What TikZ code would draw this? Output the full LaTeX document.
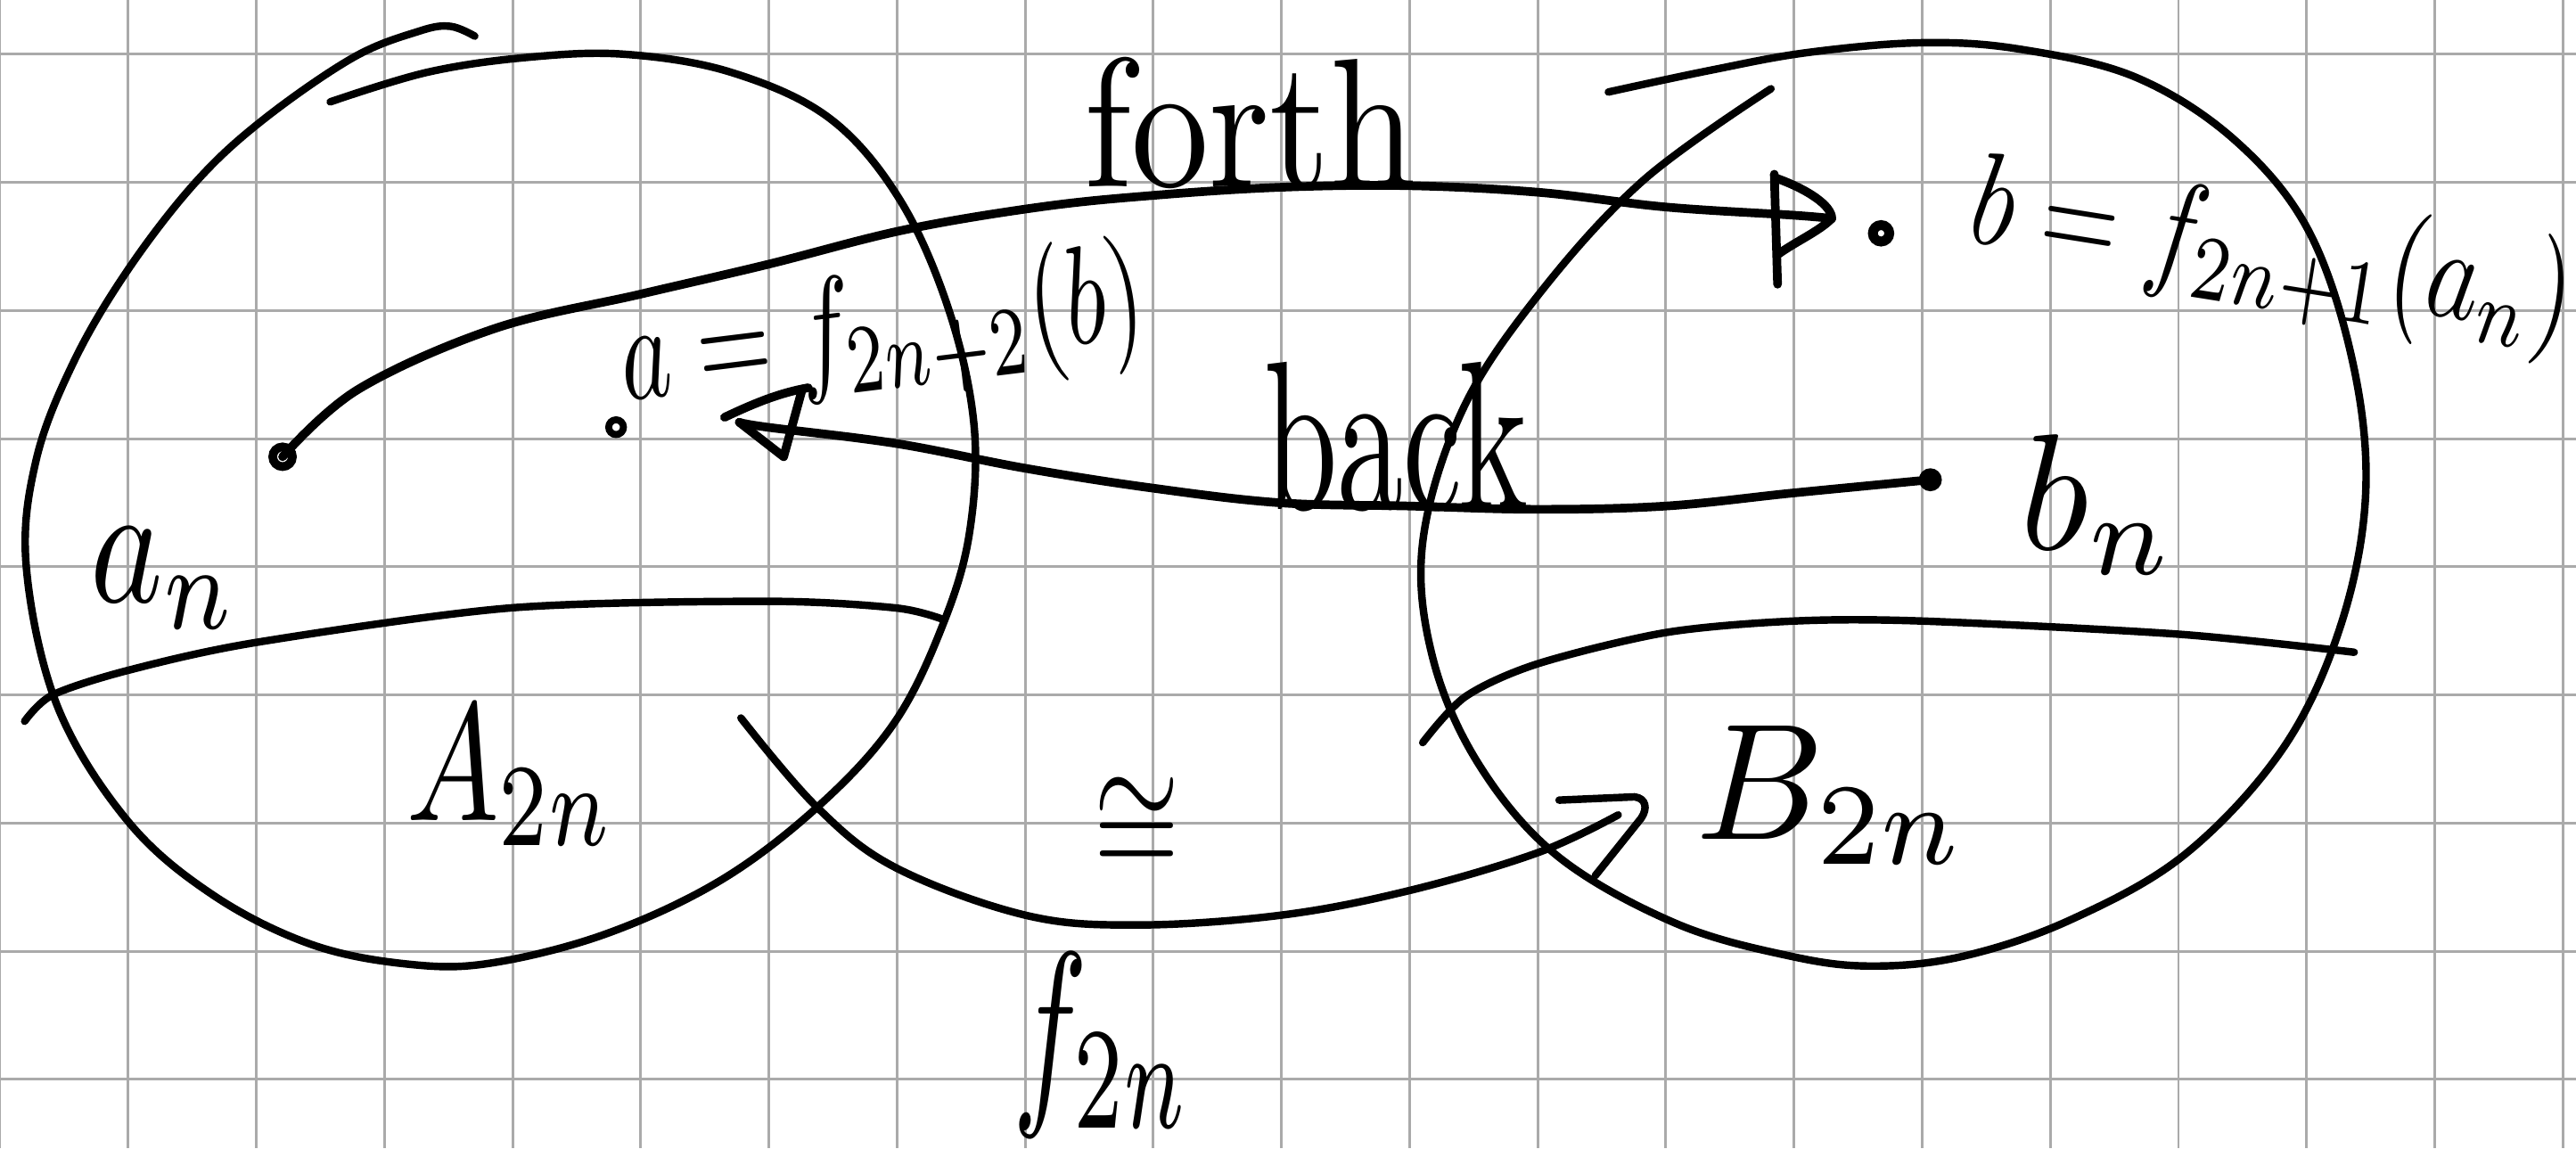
\documentclass[tikz,border=0pt]{standalone}
\usepackage{graphicx}
\usetikzlibrary{calc}
\definecolor{gridgray}{RGB}{170,170,170}
\tikzset{
 gridline/.style={gridgray, line width=0.45pt},
 pen/.style={line width=1.3pt, line cap=round, line join=round},
 arrowpen/.style={line width=1.5pt, line cap=round, line join=round},
 lbl/.style={inner sep=0pt, anchor=center},
 ring/.style={circle, draw, inner sep=0pt, line width=1.2pt},
}
\newcommand{\hw}[3]{\resizebox*{#1}{#2}{#3}}
\begin{document}
\begin{tikzpicture}[x=0.01cm, y=-0.01cm]
\useasboundingbox (0,0) rectangle (1568,699);
\fill[white] (0,0) rectangle (1568,699);
\foreach \i in {0,...,20} \draw[gridline] (78*\i,0) -- (78*\i,699);
\foreach \j in {0,...,8} \draw[gridline] (0,33+78*\j) -- (1568,33+78*\j);

% left set
\draw[pen] plot[smooth, tension=0.6] coordinates {(201,62) (260,44) (320,35) (380,33) (445,44) (505,72) (548,122) (578,190) (593,260) (590,325) (574,380) (545,439) (500,489) (440,535) (370,568) (300,586) (250,587) (190,575) (130,545) (78,500) (35,430) (16,345) (22,280) (45,220) (78,164) (119,111) (160,73) (215,35) (255,19) (274,16) (289,22)};
% right set
\draw[pen] plot[smooth, tension=0.6] coordinates {(1078,54) (1000,110) (936,180) (890,250) (866,330) (872,400) (900,465) (948,521) (1020,562) (1090,582) (1140,588) (1195,582) (1260,560) (1330,520) (1390,455) (1425,380) (1440,300) (1432,220) (1405,140) (1360,85) (1300,47) (1230,30) (1170,26) (1100,32) (1040,43) (979,56)};
% subset boundaries
\draw[pen] plot[smooth] coordinates {(15,439) (32,423) (78,408) (156,391) (311,370) (467,366) (545,370) (574,377)};
\draw[pen] plot[smooth] coordinates {(866,452) (892,424) (936,404) (1014,385) (1092,378) (1170,378) (1326,386) (1433,397)};

% points
\node[ring, minimum size=0.12cm, line width=1.5pt] (an) at (172,278) {};
\node[ring, minimum size=0.09cm] (a) at (375,260) {};
\node[ring, minimum size=0.1cm, line width=1.7pt] (b) at (1145,142) {};
\node[circle, fill, inner sep=0pt, minimum size=0.14cm] (bn) at (1175,292) {};
\coordinate (fhead) at (1115,133);
\coordinate (bhead) at (450,257);
\coordinate (fstart) at (451,437);
\coordinate (fend) at (985,496);

% forth
\draw[arrowpen] plot[smooth, tension=0.6] coordinates {(an.center) (218,237) (301,200) (390,179) (467,161) (550,140) (633,126) (701,119) (779,114) (857,113) (936,117) (1014,126) (1092,131) (fhead)};
\draw[arrowpen, shift={(fhead)}] (-35,-25) .. controls (-15,-18) and (0,-8) .. (0,0) .. controls (-8,8) and (-22,14) .. (-33,22);
\draw[arrowpen, shift={(fhead)}] (-35,-27) -- (-33,40);

% back
\draw[arrowpen] plot[smooth, tension=0.6] coordinates {(bn.center) (1092,300) (1014,308) (936,310) (858,308) (779,306) (701,297) (624,285) (546,270) (467,260) (bhead)};
\draw[arrowpen, shift={(bhead)}] (0,0) -- (27,21) -- (38,-19);
\draw[arrowpen, shift={(bhead)}] (-9,-3) .. controls (10,-12) and (25,-18) .. (42,-21);

% f_2n
\draw[pen] plot[smooth, tension=0.6] coordinates {(fstart) (497,491) (545,528) (624,557) (692,563) (780,557) (858,542) (936,519) (fend)};
\draw[pen, shift={(fend)}] (-36,-9) -- (10,-11) .. controls (17,-10) and (18,-4) .. (14,2) -- (-14,37);

% labels
\node[lbl] (forth) at (761,75) {\hw{2.02cm}{0.8cm}{forth}};
\node[lbl] (back) at (850,266) {\hw{1.61cm}{0.91cm}{back}};
\node[lbl] (lan) at (100,352) {\hw{0.9cm}{0.61cm}{$a_n$}};
\node[lbl] (lA) at (311,472) {\hw{1.27cm}{0.85cm}{$A_{2n}$}};
\node[lbl] (lB) at (1115,484) {\hw{1.65cm}{0.84cm}{$B_{2n}$}};
\node[lbl] (lbn) at (1277,307) {\hw{0.95cm}{0.85cm}{$b_n$}};
\node[lbl, rotate=7] (la) at (537,203) {\hw{3.2cm}{0.85cm}{$a=f_{2n+2}(b)$}};
\node[lbl, rotate=-9] (lb) at (1383,156) {\hw{3.7cm}{0.8cm}{$b=f_{2n+1}(a_n)$}};
\node[lbl] (cong) at (692,503) {\hw{0.52cm}{0.6cm}{$\cong$}};
\node[lbl] (lf) at (671,636) {\hw{1.09cm}{1.12cm}{$f_{2n}$}};
\end{tikzpicture}
\end{document}
